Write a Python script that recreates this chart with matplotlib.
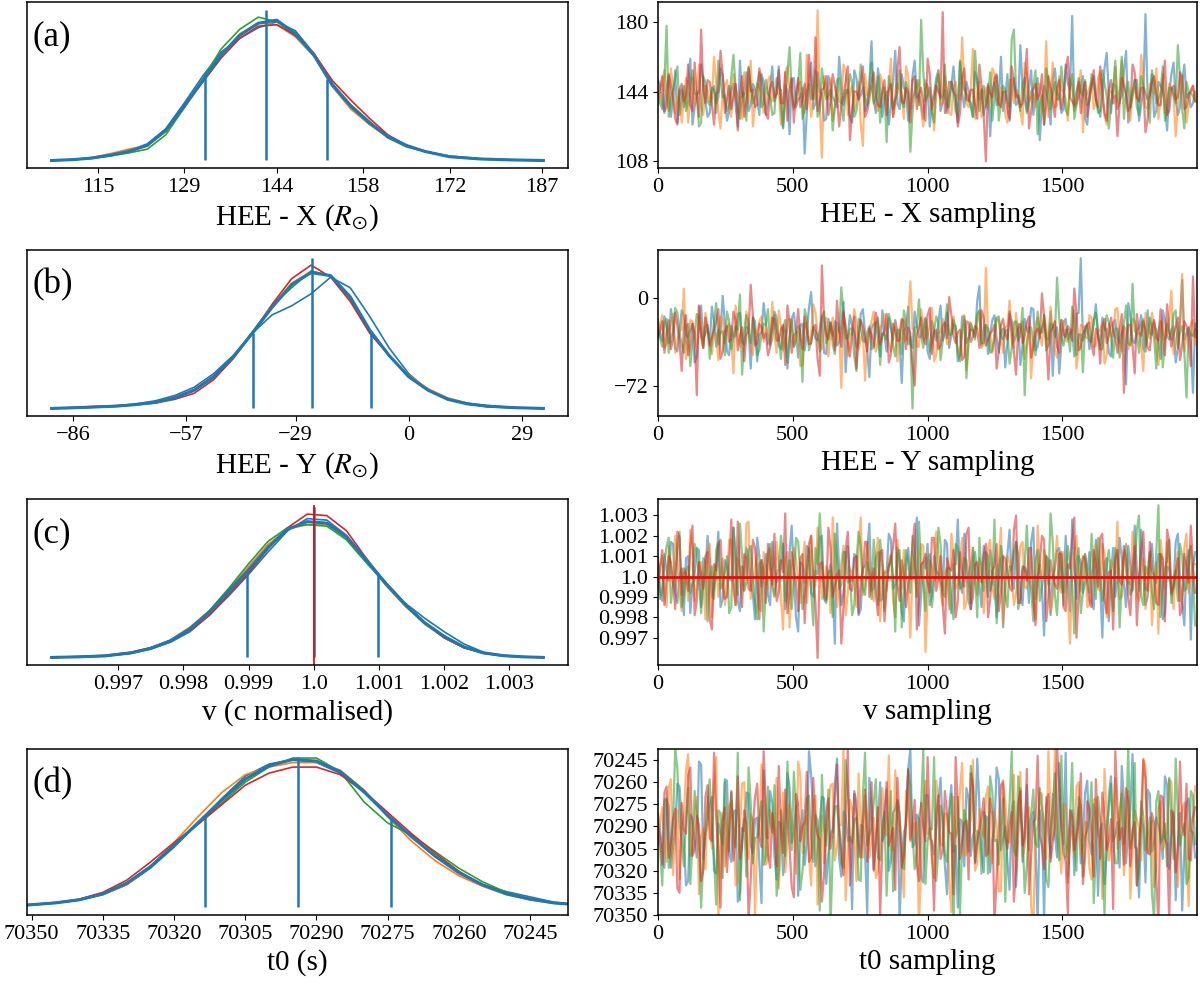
import numpy as np
import matplotlib
matplotlib.use("Agg")
import matplotlib.pyplot as plt

plt.rcParams['font.family'] = ['Liberation Serif', 'DejaVu Serif']
plt.rcParams['mathtext.fontset'] = 'stix'

chain_colors = ['C0', 'C1', 'C2', 'C3']

# ---------------- posterior density (peak ~1) ----------------
x_grid = [107.5, 111, 114, 117, 120, 123, 126, 129, 132, 135, 138, 141, 144, 147, 150, 153, 156, 159, 162, 165, 168, 172, 177, 182, 187.2]
x_kde_chains = [
    [0.0, 0.005, 0.015, 0.035, 0.065, 0.11, 0.21, 0.38, 0.56, 0.72, 0.81, 0.88, 0.92, 0.86, 0.71, 0.51, 0.35, 0.24, 0.16, 0.10, 0.06, 0.025, 0.01, 0.005, 0.0],
    [0.0, 0.006, 0.02, 0.045, 0.075, 0.10, 0.19, 0.35, 0.52, 0.70, 0.84, 0.91, 0.90, 0.82, 0.69, 0.49, 0.34, 0.24, 0.15, 0.10, 0.06, 0.026, 0.01, 0.004, 0.0],
    [0.0, 0.005, 0.014, 0.03, 0.05, 0.075, 0.17, 0.35, 0.54, 0.74, 0.87, 0.95, 0.92, 0.83, 0.70, 0.51, 0.37, 0.26, 0.15, 0.09, 0.06, 0.03, 0.012, 0.005, 0.0],
    [0.0, 0.007, 0.018, 0.035, 0.06, 0.10, 0.20, 0.37, 0.52, 0.68, 0.81, 0.89, 0.90, 0.83, 0.71, 0.53, 0.40, 0.28, 0.17, 0.10, 0.06, 0.024, 0.009, 0.004, 0.0],
]
x_kde_all = [0.0, 0.006, 0.016, 0.035, 0.06, 0.10, 0.20, 0.36, 0.53, 0.70, 0.83, 0.91, 0.93, 0.84, 0.70, 0.50, 0.36, 0.25, 0.16, 0.10, 0.06, 0.025, 0.01, 0.004, 0.0]
x_quant = [132.4, 142.2, 152.1]
x_quant_h = [0.555, 1.0, 0.54]

y_grid = [-91.5, -85, -80, -75, -70, -65, -60, -55, -50, -45, -40, -35, -30, -25, -20, -15, -10, -5, 0, 5, 10, 15, 20, 27, 34.5]
y_kde_chains = [
    [0.0, 0.004, 0.01, 0.017, 0.03, 0.05, 0.085, 0.14, 0.23, 0.35, 0.50, 0.62, 0.68, 0.76, 0.87, 0.80, 0.61, 0.40, 0.23, 0.12, 0.06, 0.03, 0.012, 0.004, 0.0],
    [0.0, 0.003, 0.008, 0.014, 0.025, 0.04, 0.07, 0.12, 0.20, 0.33, 0.50, 0.68, 0.83, 0.91, 0.88, 0.72, 0.50, 0.35, 0.22, 0.13, 0.07, 0.035, 0.014, 0.004, 0.0],
    [0.0, 0.004, 0.009, 0.015, 0.025, 0.04, 0.07, 0.125, 0.21, 0.34, 0.51, 0.68, 0.80, 0.91, 0.88, 0.73, 0.51, 0.35, 0.21, 0.12, 0.065, 0.035, 0.02, 0.005, 0.0],
    [0.0, 0.008, 0.014, 0.018, 0.025, 0.035, 0.06, 0.10, 0.19, 0.33, 0.50, 0.69, 0.86, 0.95, 0.87, 0.71, 0.50, 0.35, 0.21, 0.12, 0.06, 0.03, 0.013, 0.006, 0.0],
]
y_kde_all = [0.0, 0.005, 0.01, 0.015, 0.025, 0.04, 0.07, 0.12, 0.21, 0.34, 0.50, 0.67, 0.82, 0.90, 0.88, 0.74, 0.52, 0.35, 0.21, 0.12, 0.06, 0.03, 0.015, 0.005, 0.0]
y_quant = [-40.0, -24.9, -9.7]
y_quant_h = [0.50, 1.0, 0.50]

# v given as deviation from 1 in units of 1e-4 c
v_grid = [-40.2, -36, -32, -28, -25, -22, -19, -16, -13, -10, -7, -4, -1, 2, 5, 8, 11, 14, 17, 20, 23, 26, 29, 32, 35.2]
v_kde_chains = [
    [0.0, 0.004, 0.01, 0.028, 0.055, 0.10, 0.17, 0.28, 0.41, 0.55, 0.70, 0.84, 0.92, 0.91, 0.81, 0.65, 0.50, 0.36, 0.26, 0.17, 0.09, 0.035, 0.012, 0.004, 0.0],
    [0.0, 0.005, 0.012, 0.032, 0.065, 0.115, 0.20, 0.31, 0.45, 0.60, 0.75, 0.85, 0.88, 0.88, 0.79, 0.64, 0.48, 0.34, 0.22, 0.13, 0.065, 0.028, 0.01, 0.003, 0.0],
    [0.0, 0.003, 0.008, 0.028, 0.06, 0.11, 0.19, 0.31, 0.46, 0.62, 0.77, 0.86, 0.88, 0.87, 0.78, 0.63, 0.49, 0.36, 0.23, 0.13, 0.065, 0.028, 0.01, 0.004, 0.0],
    [0.0, 0.006, 0.014, 0.035, 0.065, 0.11, 0.18, 0.28, 0.42, 0.56, 0.72, 0.86, 0.95, 0.94, 0.84, 0.66, 0.49, 0.35, 0.23, 0.13, 0.065, 0.03, 0.014, 0.006, 0.0],
]
v_kde_all = [0.0, 0.004, 0.01, 0.03, 0.06, 0.11, 0.19, 0.30, 0.44, 0.58, 0.73, 0.85, 0.90, 0.89, 0.80, 0.65, 0.49, 0.35, 0.23, 0.14, 0.07, 0.03, 0.012, 0.004, 0.0]
v_quant = [-10.3, 0.0, 9.8]
v_quant_h = [0.575, 1.0, 0.553]
v_true = 1.0

t_grid = [70355, 70350, 70345, 70340, 70335, 70330, 70325, 70320, 70315, 70310, 70305, 70300, 70295, 70290, 70285, 70280, 70275, 70270, 70265, 70260, 70255, 70250, 70245, 70240, 70235]
t_kde_chains = [
    [0.01, 0.018, 0.03, 0.05, 0.085, 0.15, 0.26, 0.40, 0.56, 0.72, 0.87, 0.95, 0.98, 0.96, 0.89, 0.76, 0.61, 0.47, 0.34, 0.23, 0.15, 0.105, 0.07, 0.035, 0.018],
    [0.008, 0.015, 0.028, 0.048, 0.085, 0.15, 0.27, 0.43, 0.60, 0.76, 0.88, 0.93, 0.96, 0.96, 0.91, 0.78, 0.60, 0.44, 0.31, 0.21, 0.14, 0.085, 0.05, 0.028, 0.015],
    [0.01, 0.018, 0.03, 0.05, 0.09, 0.16, 0.27, 0.41, 0.55, 0.69, 0.83, 0.93, 0.99, 0.99, 0.90, 0.70, 0.56, 0.48, 0.37, 0.26, 0.17, 0.10, 0.06, 0.03, 0.018],
    [0.012, 0.02, 0.033, 0.055, 0.10, 0.18, 0.30, 0.43, 0.55, 0.68, 0.81, 0.89, 0.93, 0.93, 0.88, 0.77, 0.63, 0.49, 0.36, 0.24, 0.15, 0.09, 0.055, 0.03, 0.017],
]
t_kde_all = [0.01, 0.018, 0.03, 0.05, 0.09, 0.16, 0.27, 0.41, 0.56, 0.71, 0.85, 0.94, 0.98, 0.97, 0.90, 0.77, 0.61, 0.47, 0.34, 0.23, 0.15, 0.09, 0.055, 0.03, 0.018]
t_quant = [70313.4, 70293.8, 70274.3]
t_quant_h = [0.60, 1.0, 0.59]

# ---------------- chains, every 8th draw of 2000 ----------------
# *_a: draws 0, 16, 32, ...   *_b: draws 8, 24, 40, ...
draws = np.arange(0, 2000, 8)

x_trace_a = [
    [150, 138, 146, 131, 155, 142, 136, 149, 127, 144, 158, 139, 133, 147, 141, 152, 129, 145, 137, 160, 143, 134, 148, 140, 153,
     132, 146, 139, 157, 125, 144, 150, 136, 141, 112, 148, 135, 154, 143, 130, 147, 139, 162, 137, 145, 128, 151, 142, 134, 149,
     140, 156, 131, 144, 138, 165, 135, 146, 129, 152, 141, 137, 148, 126, 143, 155, 139, 133, 147, 142, 159, 136, 144, 131, 150,
     145, 138, 121, 149, 141, 134, 153, 143, 137, 168, 140, 146, 132, 151, 139, 144, 127, 156, 142, 135, 148, 183, 138, 146, 130,
     143, 152, 136, 141, 164, 133, 147, 139, 155, 128, 144, 150, 137, 184, 142, 131, 149, 145, 124, 153, 140, 136, 158, 143, 138],
    [137, 149, 142, 156, 133, 145, 140, 128, 151, 143, 136, 147, 139, 162, 134, 144, 150, 131, 146, 141, 154, 138, 126, 148, 143,
     135, 152, 140, 145, 130, 157, 142, 137, 149, 133, 146, 140, 186, 110, 143, 151, 136, 139, 158, 132, 147, 141, 127, 153, 144,
     139, 134, 148, 143, 161, 137, 145, 130, 152, 141, 146, 135, 150, 142, 124, 155, 138, 144, 132, 149, 140, 147, 136, 166, 143,
     131, 146, 140, 153, 137, 142, 128, 150, 145, 134, 159, 139, 143, 148, 133, 170, 141, 136, 152, 144, 129, 147, 138, 155, 142,
     146, 135, 151, 140, 127, 144, 157, 138, 149, 132, 145, 141, 163, 136, 148, 143, 130, 153, 139, 146, 121, 150, 142, 137, 147],
    [144, 135, 178, 140, 151, 132, 147, 139, 155, 143, 128, 149, 137, 145, 160, 141, 134, 152, 146, 130, 143, 157, 138, 148, 136,
     150, 141, 133, 146, 126, 153, 144, 139, 164, 135, 148, 142, 131, 156, 140, 145, 137, 151, 129, 143, 149, 134, 158, 141, 146,
     138, 152, 143, 118, 147, 140, 155, 136, 144, 133, 150, 181, 139, 146, 128, 153, 142, 137, 149, 134, 160, 145, 140, 131, 148,
     143, 136, 154, 141, 129, 147, 139, 171, 144, 134, 151, 138, 146, 122, 142, 156, 135, 149, 140, 145, 132, 153, 137, 144, 150,
     139, 147, 133, 155, 142, 137, 160, 145, 130, 149, 141, 136, 152, 143, 128, 147, 140, 157, 134, 146, 138, 151, 125, 144, 142],
    [141, 152, 136, 147, 130, 145, 139, 158, 134, 143, 176, 138, 149, 127, 144, 153, 140, 135, 148, 142, 131, 156, 145, 137, 150,
     133, 146, 141, 155, 138, 129, 151, 143, 136, 148, 163, 140, 134, 145, 152, 139, 147, 126, 142, 157, 135, 144, 149, 131, 140,
     154, 137, 145, 132, 148, 141, 167, 138, 143, 150, 135, 146, 129, 153, 140, 144, 185, 136, 149, 142, 133, 156, 139, 145, 130,
     147, 108, 143, 151, 138, 144, 134, 157, 141, 136, 148, 125, 145, 140, 153, 137, 146, 131, 150, 142, 162, 139, 144, 133, 149,
     140, 155, 136, 145, 129, 150, 142, 138, 147, 134, 158, 141, 146, 123, 143, 152, 137, 148, 132, 145, 140, 154, 135, 143, 147],
]
x_trace_b = [
    [147, 133, 152, 140, 128, 145, 139, 161, 136, 143, 150, 131, 144, 138, 156, 142, 134, 148, 126, 141, 154, 137, 145, 132, 149,
     139, 157, 143, 135, 147, 122, 151, 140, 146, 133, 159, 138, 144, 129, 152, 141, 136, 148, 143, 131, 155, 140, 146, 137, 170,
     133, 145, 141, 127, 149, 138, 153, 144, 135, 160, 142, 130, 147, 139, 151, 134, 145, 141, 157, 128, 143, 149, 136, 154, 140,
     132, 148, 144, 137, 162, 141, 129, 151, 139, 146, 134, 155, 142, 119, 147, 138, 150, 143, 133, 158, 145, 136, 141, 152, 127,
     146, 139, 131, 156, 143, 148, 135, 142, 165, 137, 150, 129, 145, 140, 153, 134, 147, 138, 143, 159, 132, 149, 141, 136, 144],
    [141, 155, 134, 146, 139, 128, 151, 143, 137, 158, 132, 145, 140, 149, 125, 147, 136, 153, 142, 130, 144, 160, 138, 146, 133,
     150, 139, 143, 127, 154, 145, 135, 148, 141, 163, 131, 144, 137, 152, 140, 129, 146, 138, 155, 143, 134, 149, 116, 142, 147,
     136, 153, 140, 145, 131, 148, 142, 157, 135, 143, 150, 126, 146, 139, 144, 137, 152, 133, 147, 141, 172, 138, 145, 130, 149,
     143, 135, 156, 140, 146, 132, 150, 138, 144, 127, 153, 141, 136, 148, 142, 131, 159, 137, 145, 140, 151, 134, 146, 123, 143,
     149, 138, 154, 132, 145, 141, 136, 160, 143, 129, 147, 139, 151, 135, 144, 156, 140, 133, 148, 142, 137, 152, 128, 145, 141],
    [138, 149, 131, 145, 157, 140, 134, 148, 143, 126, 152, 139, 146, 133, 150, 142, 137, 163, 135, 144, 129, 147, 141, 154, 138,
     143, 132, 151, 145, 139, 167, 136, 148, 130, 144, 140, 155, 134, 146, 142, 124, 150, 138, 145, 153, 131, 143, 147, 137, 159,
     141, 128, 146, 152, 135, 143, 139, 149, 113, 145, 137, 154, 142, 133, 148, 140, 158, 136, 144, 131, 150, 143, 138, 165, 134,
     147, 142, 129, 152, 139, 145, 136, 176, 141, 148, 133, 144, 155, 138, 127, 149, 143, 140, 157, 135, 146, 130, 151, 142, 137,
     153, 141, 134, 148, 125, 145, 139, 162, 143, 136, 150, 132, 147, 140, 155, 138, 144, 129, 146, 142, 168, 135, 149, 143, 139],
    [146, 134, 153, 140, 127, 148, 142, 137, 159, 131, 145, 150, 138, 143, 165, 133, 147, 141, 124, 152, 139, 144, 136, 156, 142,
     130, 149, 143, 138, 154, 145, 128, 151, 140, 135, 147, 172, 139, 146, 132, 153, 141, 137, 149, 119, 144, 140, 157, 134, 148,
     142, 136, 150, 145, 131, 155, 139, 146, 128, 152, 143, 138, 161, 135, 147, 141, 133, 149, 144, 126, 151, 140, 145, 137, 158,
     132, 147, 141, 153, 136, 144, 130, 150, 142, 138, 166, 134, 148, 143, 127, 152, 139, 146, 135, 155, 141, 137, 149, 144, 131,
     148, 140, 157, 133, 145, 138, 121, 151, 142, 136, 154, 139, 146, 130, 149, 143, 137, 160, 134, 147, 141, 152, 136, 144, 139],
]

y_trace_a = [
    [-18, -35, -24, -9, -41, -27, -14, -32, -21, -48, -6, -29, -37, -19, -26, 2, -44, -23, -31, -12, -38, -25, -16, -52, -28,
     -20, -33, -11, -39, -24, -58, -17, -30, -22, -43, -8, -27, -35, -15, -46, -26, -19, -36, -3, -31, -23, -40, -13, -29, -65,
     -21, -34, -10, -44, -25, -18, -37, -28, -7, -41, -24, -32, -16, -50, -27, -20, -35, -12, -30, -23, -47, -15, -33, -26, -2,
     -39, -22, -29, -14, -45, -25, -36, -19, -31, -55, -17, -28, -9, -40, -24, -33, -11, -27, -62, -20, -34, -26, -13, 33, -30,
     -42, -21, -32, -16, -25, -48, -18, -37, -23, -4, -35, -27, -14, -44, -29, -20, -38, -10, -31, -26, -53, -19, -34, -24, -78],
    [-30, -14, -38, -22, -45, -27, 8, -33, -19, -41, -25, -12, -36, -29, -51, -17, -24, -34, -6, -40, -26, -20, -47, -31, -15,
     -23, -37, -28, -10, -43, -25, -18, -32, -56, -21, -35, -5, -29, -42, -16, -27, -39, -24, -13, -48, -30, -20, -34, -68, -26,
     -11, -37, -22, -31, -44, -19, -27, -36, -15, -25, -40, -9, -33, -21, -52, -28, -17, -38, -24, -30, -46, -14, -35, -26, -20,
     -41, 25, -29, -33, -18, -45, -23, -37, -12, -28, -50, -21, -34, -16, -39, -25, -7, -43, -30, -19, -36, -27, -58, -22, -32,
     -14, -40, -26, -20, -47, -31, -9, -35, -24, -42, -17, -28, -38, -12, -33, -25, -55, -19, -30, 6, -37, -23, -44, -27, -18],
    [-26, -40, -17, -33, -8, -29, -45, -21, -36, -13, -31, -24, -50, -19, -38, -27, -11, -42, -23, 3, -34, -28, -16, -47, -30,
     -22, -39, -14, -32, -25, -53, -18, -35, -27, -9, -43, -24, -30, -15, -37, -20, -46, -28, -12, -33, -25, -60, -19, -36, -23,
     -41, -16, -29, -34, -21, -48, -26, -10, -38, -91, -24, -31, -17, -44, -27, -20, -35, -5, -30, -25, -52, -18, -33, -28, -13,
     -37, -22, -45, -29, -15, -34, -26, -41, -19, -31, -80, -24, -36, -11, -28, -43, -21, -32, -17, -39, -26, -7, -47, -30, -23,
     -35, -18, -27, -42, -14, -31, -25, -49, -20, -37, 12, -29, -23, -40, -16, -33, -26, -57, -21, -34, -10, -28, -44, -24, -31],
    [-33, -19, -28, -42, -12, -36, -25, -47, -21, -80, -30, -16, -39, -26, -9, -44, -23, -34, -18, -31, -52, -27, -14, -37, -24,
     -29, -41, -17, -35, -22, -6, -45, -28, -32, -15, -38, -24, -50, 27, -30, -20, -43, -26, -11, -36, -29, -58, -18, -33, -25,
     -40, -21, -31, -13, -46, -27, -35, -19, -24, -54, -30, -16, -38, -8, -28, -42, -23, -33, -14, -37, -26, -48, -20, -32, -25,
     -10, -39, -29, -22, -44, -17, -34, -27, -63, -21, -31, -15, -40, -25, 4, -36, -28, -19, -45, -30, -23, -35, -12, -41, -26,
     -20, -47, -30, -24, -37, -16, -33, -27, -78, -22, -39, -13, -31, -26, -43, -18, -35, -29, -5, -40, -24, -51, -19, -32, 18],
]
y_trace_b = [
    [-29, -15, -37, -22, -44, -10, -31, -26, -53, -18, -34, -25, -7, -40, -28, -20, -47, -32, -13, -36, -24, -58, -19, -30, -4,
     -38, -23, -16, -42, -27, -35, -12, -49, -21, -29, 5, -33, -26, -45, -17, -31, -39, -22, -61, -14, -28, -36, -9, -43, -25,
     -20, -48, -30, -16, -34, -27, -70, -23, -38, -11, -32, -25, -44, -19, -35, -6, -29, -41, -22, -52, -15, -37, -26, -31, 10,
     -24, -46, -18, -33, -28, -57, -13, -36, -21, -40, -27, -8, -43, -30, -19, -34, -64, -24, -38, -17, -29, -48, -12, -35, -22,
     -31, -5, -39, -26, -45, -20, -33, -28, -71, -15, -37, -24, -42, -10, -30, -27, -50, -18, -34, -23, -41, 15, -29, -36, -21],
    [-22, -41, -28, -13, -35, -26, -50, -18, -32, -7, -39, -24, -46, -29, -15, -37, -21, -62, -27, -33, -11, -43, -25, -19, -36,
     -30, -3, -45, -23, -34, -17, -40, -28, -55, -20, -31, -12, -38, -26, -48, -16, -33, -74, -22, -29, -9, -42, -27, -35, -19,
     -44, -24, -13, -37, -30, -52, -18, -34, 14, -26, -40, -21, -31, -8, -47, -28, -23, -36, -15, -43, -25, -59, -20, -32, -11,
     -38, -27, -45, -17, -33, -24, -2, -41, -29, -19, -36, -66, -22, -30, -14, -40, -26, -49, -18, -35, -28, -10, -43, -23, -33,
     -16, -39, -27, -54, -21, -31, -8, -44, -25, -37, -19, -30, -60, -24, -12, -41, -28, -34, -17, -46, -26, 20, -32, -22, -38],
    [-33, -20, -45, -27, -12, -38, -24, -56, -30, -17, -41, -22, -35, -4, -29, -47, -19, -32, -26, -63, -14, -37, -28, -43, -21,
     -9, -34, -25, -50, -18, -31, -40, -23, -69, -16, -36, -27, -44, -11, -29, -38, -20, 9, -33, -25, -48, -17, -35, -28, -42,
     -22, -55, -30, -13, -39, -26, -46, -19, -32, -24, -1, -41, -27, -36, -15, -51, -23, -30, -18, -45, -28, -66, -21, -34, -10,
     -37, -25, -43, -16, -31, -27, -54, -20, -35, -8, -40, -24, -47, -29, -14, -38, -22, 17, -33, -26, -44, -18, -30, -61, -23,
     -36, -12, -42, -28, -20, -49, -25, -33, -6, -39, -27, -45, -17, -31, -24, -58, -19, -35, -29, -13, -41, -23, -82, -30, -26],
    [-27, -45, -18, -34, -23, -60, -14, -38, -29, -6, -41, -25, -32, -19, -50, -28, -36, -11, -43, -24, -30, 11, -39, -21, -33,
     -47, -16, -35, -26, -55, -20, -31, -9, -42, -27, -37, -22, -64, -18, -34, -28, -2, -40, -25, -48, -15, -32, -23, -44, -30,
     -12, -38, -27, -53, -21, -35, -17, -42, -29, -72, -24, -33, -14, -46, -26, -39, -20, 1, -31, -28, -51, -19, -36, -23, -41,
     -16, -34, -27, -58, -22, -30, -11, -44, -25, -37, -20, -49, -28, -33, -15, -67, -24, -40, -18, -32, -26, 8, -43, -29, -21,
     -38, -25, -54, -17, -31, -27, -45, -13, -35, -22, -62, -28, -19, -41, -24, -33, -9, -47, -26, -30, -16, -39, -23, -56, -32],
]

# v chains as deviation from 1 in units of 1e-4 c
v_dev_a = [
    [6, -12, 3, 17, -8, 1, -19, 10, -4, 14, -15, 2, 8, -6, 22, -11, 5, -2, 12, -17, 0, 9, -9, 19, -5,
     11, -14, 4, -1, 16, -7, 25, -20, 7, -3, 13, -10, 1, 20, -13, 6, -33, 3, -8, 15, -2, 10, -16, 5, 26,
     -6, 12, -11, 2, 18, -4, 8, -22, 14, -1, 29, -9, 4, -14, 10, 1, -7, 16, -18, 6, -3, 21, -12, 9, 0,
     -15, 7, 13, -5, 3, -25, 11, -2, 17, -9, 5, -13, 24, 0, -6, 10, -19, 4, 14, -8, 2, 28, -11, 7, -3,
     12, -16, 6, -30, 9, 1, -10, 19, -4, 15, -7, 3, 23, -14, 8, -1, 11, -21, 5, -9, 17, -2, -24, 13, 4],
    [-3, 10, -15, 5, 20, -8, 2, -12, 13, -5, 7, -21, 16, 0, -10, 9, -2, 18, -14, 4, -7, 27, -4, 11, -17,
     1, 14, -9, 6, -26, 12, -1, 8, -13, 17, 3, -6, 24, -11, 5, -18, 10, -3, 15, -8, 2, -15, 29, -5, 7,
     -12, 19, 0, -7, 11, -20, 6, 13, -4, 2, -10, 16, -37, 8, -2, 12, -14, 4, 21, -6, 9, -16, 1, 14, -9,
     5, -3, 18, -11, 7, -23, 10, 0, -8, 15, -5, 3, -13, 25, -1, 9, -18, 6, -4, 12, -10, 2, 20, -7, 11,
     -14, 4, -6, 16, -20, 8, 1, -11, 13, -3, 22, -9, 5, -16, 10, -1, -28, 7, 17, -5, 3, -12, 14, -8, 6],
    [9, -6, 15, -13, 2, 22, -9, 5, -3, 12, -18, 7, 0, -11, 17, -4, 10, -15, 3, 26, -7, 13, -1, -21, 8,
     -5, 16, -10, 4, 11, -2, -16, 19, 1, -8, 14, -24, 6, 9, -12, 3, 21, -6, 12, -3, -19, 7, 15, -9, 2,
     18, -14, 5, -1, 10, -27, 13, -5, 7, 20, -10, 2, -17, 11, -3, 24, -8, 4, -13, 16, -6, 9, -2, 14, -20,
     1, 12, -7, 28, -4, 8, -15, 3, 17, -11, 6, -1, -22, 13, -5, 10, 31, -9, 2, -14, 15, -3, 7, -18, 11,
     -8, 4, 19, -12, 6, -2, 14, -25, 9, 1, -6, 23, -10, 5, 12, -16, 35, -4, 8, -13, 3, 16, -7, 10, -1],
    [-9, 13, -2, 7, -16, 19, 4, -7, 25, -12, 1, 10, -21, 6, 15, -4, -10, 28, -14, 3, 11, -6, 18, -1, 8,
     -13, 5, 21, -8, 2, -18, 12, -3, 9, -23, 16, 0, -40, 7, -11, 14, -5, 3, -15, 22, -7, 10, -2, 17, -10,
     4, -19, 13, -6, 8, 26, -12, 1, -4, 15, -26, 6, 11, -8, 19, -1, -14, 9, 3, -20, 12, -5, 24, -10, 7,
     -3, 16, -11, 5, -17, 10, 2, -7, 30, -13, 4, 14, -9, -1, 20, -22, 8, -4, 11, -15, 6, 18, -30, 1, 9,
     -12, 13, -5, 21, -18, 3, 8, -2, 15, -10, 5, -24, 12, -6, 17, 0, -14, 9, 23, -8, 2, -19, 11, -3, 6],
]
v_dev_b = [
    [-7, 11, -2, 16, -13, 4, 9, -18, 1, 13, -6, 20, -10, 3, -15, 8, -1, 24, -12, 5, 14, -4, -21, 10, 2,
     -9, 17, -3, 7, -16, 12, 0, -27, 6, 15, -8, 3, 19, -11, 1, -5, 26, -14, 8, -2, 11, -19, 4, 13, -7,
     9, -12, 2, 21, -6, 14, -17, 5, -1, 10, -24, 7, 16, -9, 3, -3, 18, -13, 6, 28, -8, 1, -16, 12, -4,
     15, -10, 4, -20, 9, -2, 23, -6, 11, -14, 2, 17, -11, 6, -29, 8, 0, 13, -5, 20, -17, 3, 10, -8, 1,
     -12, 18, -4, 7, -22, 14, -1, 9, -15, 5, 25, -7, 2, -10, 16, -3, 11, -18, 4, -6, 21, -13, 8, -31, 12],
    [4, -9, 15, -5, 10, -17, 2, 23, -12, 7, -3, 13, -20, 6, 0, -14, 18, -7, 9, -2, 26, -11, 5, -16, 12,
     -6, 3, 17, -10, 8, -25, 14, -1, 6, -13, 20, -4, 11, -8, 1, 29, -15, 7, -19, 4, -2, 13, -9, 16, -5,
     10, -22, 3, 8, -12, 18, -6, 1, -30, 12, -3, 15, -10, 5, 22, -7, 2, -16, 11, -4, 19, -13, 6, -1, 9,
     -18, 14, -5, 3, 24, -9, 7, -14, 1, 17, -6, 10, -21, 4, 13, -2, -11, 20, -8, 6, -33, 12, -3, 8, -15,
     2, 16, -7, 11, -19, 5, 27, -10, 3, -4, 14, -12, 9, -1, -24, 7, 18, -6, 4, -16, 12, -9, 21, -2, 6],
    [-11, 7, 19, -4, 12, -15, 3, -8, 16, -1, 9, -22, 5, 13, -6, 2, -18, 24, -9, 10, -3, 15, -13, 6, -27,
     11, -5, 1, 20, -12, 8, -2, 17, -16, 4, -7, 14, 31, -10, 2, -20, 9, -4, 12, 0, -14, 22, -6, 7, -11,
     3, 18, -17, 5, -1, 11, -25, 13, -8, 6, 27, -3, 9, -15, 1, 16, -10, 4, -21, 14, -5, 8, -13, 2, 19,
     -7, 10, -2, -23, 15, -9, 5, 12, -16, 3, 25, -6, 8, -12, 1, -4, 17, -19, 11, -1, 7, -28, 14, -8, 4,
     21, -11, 2, -5, 13, -17, 9, -3, 16, -9, 6, 30, -14, 1, -7, 12, -20, 4, 18, -2, -12, 10, -6, 15, -24],
    [5, -14, 10, -3, 22, -9, 1, 15, -19, 7, -6, 12, -26, 3, 18, -11, 6, -2, 27, -15, 9, -7, 14, -21, 2,
     16, -4, -12, 8, 31, -8, 4, -17, 11, -1, 20, -13, 6, -5, 24, -10, 1, -33, 13, -6, 9, -18, 3, 17, -2,
     -9, 12, -22, 5, 15, -4, 8, -15, 1, 26, -11, 7, -3, 19, -7, 10, -28, 4, 13, -12, 2, 21, -16, 6, -1,
     11, -20, 3, 16, -8, 9, -5, 23, -13, 5, -2, 14, -24, 7, 18, -10, 1, -6, 12, -17, 4, 29, -9, 10, -3,
     -15, 6, 19, -11, 2, -26, 13, -4, 8, -19, 15, -1, 22, -7, 3, -13, 11, -22, 17, -5, 9, -16, 5, 25, -8],
]

t_trace_a = [
    [70281, 70305, 70272, 70318, 70290, 70263, 70299, 70327, 70285, 70311, 70248, 70296, 70275, 70320, 70288, 70302, 70259, 70314, 70279, 70334, 70293, 70268, 70308, 70284, 70342,
     70297, 70266, 70310, 70287, 70323, 70254, 70301, 70276, 70292, 70316, 70239, 70283, 70306, 70270, 70329, 70295, 70261, 70312, 70280, 70300, 70346, 70273, 70289, 70307, 70257,
     70319, 70286, 70300, 70265, 70313, 70278, 70352, 70294, 70251, 70304, 70282, 70325, 70269, 70298, 70309, 70274, 70291, 70336, 70262, 70303, 70285, 70317, 70271, 70296, 70244,
     70308, 70283, 70321, 70290, 70258, 70299, 70314, 70277, 70331, 70264, 70293, 70306, 70280, 70356, 70287, 70270, 70311, 70295, 70247, 70302, 70324, 70279, 70290, 70315, 70267,
     70300, 70275, 70337, 70288, 70309, 70256, 70296, 70318, 70273, 70292, 70241, 70305, 70284, 70328, 70268, 70301, 70289, 70312, 70262, 70297, 70340, 70281, 70307, 70271, 70294],
    [70302, 70277, 70314, 70258, 70293, 70326, 70284, 70241, 70308, 70270, 70297, 70319, 70288, 70263, 70354, 70281, 70304, 70273, 70330, 70291, 70260, 70312, 70286, 70299, 70248,
     70316, 70279, 70295, 70332, 70267, 70301, 70285, 70322, 70256, 70290, 70309, 70274, 70343, 70283, 70298, 70262, 70313, 70289, 70236, 70305, 70278, 70327, 70292, 70269, 70311,
     70284, 70320, 70264, 70296, 70306, 70252, 70291, 70338, 70276, 70300, 70287, 70317, 70259, 70294, 70325, 70271, 70303, 70282, 70348, 70297, 70266, 70310, 70289, 70245, 70315,
     70293, 70270, 70307, 70280, 70334, 70261, 70299, 70286, 70321, 70253, 70304, 70277, 70360, 70290, 70268, 70312, 70283, 70238, 70301, 70275, 70328, 70294, 70263, 70309, 70287,
     70318, 70272, 70296, 70339, 70281, 70305, 70257, 70292, 70323, 70266, 70300, 70285, 70313, 70249, 70297, 70331, 70278, 70306, 70289, 70260, 70316, 70293, 70274, 70344, 70283],
    [70296, 70330, 70271, 70309, 70237, 70288, 70317, 70264, 70301, 70282, 70345, 70293, 70258, 70312, 70279, 70325, 70290, 70267, 70304, 70340, 70285, 70250, 70315, 70297, 70273,
     70310, 70287, 70262, 70321, 70294, 70246, 70306, 70280, 70333, 70299, 70269, 70314, 70286, 70255, 70303, 70358, 70277, 70292, 70318, 70263, 70301, 70284, 70327, 70240, 70296,
     70274, 70311, 70289, 70337, 70266, 70302, 70281, 70319, 70252, 70295, 70308, 70276, 70329, 70291, 70243, 70305, 70283, 70314, 70268, 70298, 70350, 70279, 70307, 70260, 70293,
     70322, 70285, 70256, 70300, 70316, 70271, 70295, 70239, 70310, 70282, 70335, 70289, 70265, 70304, 70278, 70326, 70292, 70254, 70313, 70287, 70301, 70247, 70320, 70276, 70297,
     70283, 70342, 70270, 70308, 70290, 70261, 70315, 70279, 70302, 70236, 70294, 70330, 70273, 70306, 70284, 70353, 70266, 70298, 70317, 70281, 70244, 70303, 70288, 70325, 70269],
    [70289, 70316, 70263, 70301, 70278, 70335, 70292, 70255, 70310, 70283, 70327, 70270, 70298, 70240, 70306, 70286, 70321, 70266, 70295, 70312, 70279, 70352, 70290, 70261, 70304,
     70275, 70318, 70293, 70249, 70308, 70284, 70331, 70268, 70300, 70287, 70314, 70257, 70296, 70341, 70280, 70305, 70272, 70291, 70323, 70238, 70299, 70282, 70311, 70265, 70294,
     70320, 70277, 70303, 70260, 70297, 70333, 70285, 70309, 70251, 70290, 70316, 70274, 70300, 70286, 70347, 70269, 70306, 70281, 70295, 70243, 70312, 70288, 70326, 70263, 70301,
     70284, 70310, 70271, 70355, 70293, 70259, 70305, 70280, 70319, 70266, 70298, 70336, 70287, 70242, 70303, 70276, 70314, 70291, 70262, 70308, 70349, 70283, 70297, 70254, 70311,
     70278, 70324, 70290, 70267, 70306, 70285, 70239, 70299, 70316, 70273, 70293, 70330, 70281, 70258, 70309, 70288, 70357, 70270, 70302, 70279, 70321, 70246, 70296, 70312, 70284],
]
t_trace_b = [
    [70293, 70318, 70276, 70305, 70261, 70289, 70330, 70282, 70299, 70246, 70312, 70287, 70270, 70322, 70295, 70258, 70308, 70280, 70341, 70291, 70267, 70303, 70285, 70315, 70252,
     70298, 70274, 70326, 70288, 70306, 70263, 70294, 70337, 70279, 70301, 70255, 70317, 70286, 70271, 70309, 70292, 70244, 70324, 70283, 70297, 70266, 70311, 70290, 70349, 70277,
     70304, 70260, 70296, 70320, 70281, 70272, 70313, 70289, 70238, 70302, 70285, 70328, 70269, 70300, 70293, 70257, 70316, 70278, 70307, 70345, 70287, 70264, 70310, 70292, 70275,
     70321, 70284, 70299, 70250, 70306, 70290, 70333, 70273, 70296, 70314, 70262, 70288, 70303, 70279, 70353, 70294, 70268, 70311, 70286, 70240, 70301, 70323, 70277, 70297, 70259,
     70309, 70283, 70292, 70329, 70270, 70300, 70287, 70249, 70315, 70278, 70304, 70338, 70291, 70265, 70307, 70284, 70296, 70256, 70319, 70280, 70302, 70347, 70274, 70293, 70311],
    [70287, 70301, 70264, 70323, 70279, 70296, 70252, 70310, 70284, 70336, 70291, 70270, 70305, 70243, 70298, 70317, 70276, 70289, 70328, 70261, 70303, 70282, 70351, 70294, 70268,
     70312, 70286, 70257, 70300, 70321, 70275, 70293, 70246, 70308, 70283, 70330, 70269, 70297, 70315, 70280, 70261, 70304, 70289, 70340, 70272, 70296, 70254, 70311, 70285, 70299,
     70325, 70277, 70292, 70242, 70306, 70283, 70318, 70266, 70300, 70288, 70356, 70274, 70295, 70313, 70259, 70302, 70281, 70327, 70270, 70293, 70247, 70309, 70286, 70320, 70278,
     70297, 70263, 70315, 70290, 70334, 70273, 70301, 70255, 70287, 70311, 70280, 70344, 70294, 70267, 70306, 70239, 70299, 70284, 70322, 70275, 70292, 70310, 70260, 70303, 70288,
     70326, 70271, 70298, 70251, 70313, 70282, 70305, 70265, 70296, 70339, 70279, 70291, 70244, 70308, 70286, 70319, 70273, 70301, 70258, 70294, 70331, 70277, 70306, 70289, 70263],
    [70305, 70272, 70318, 70288, 70251, 70300, 70284, 70329, 70266, 70296, 70313, 70277, 70292, 70343, 70281, 70260, 70307, 70289, 70240, 70302, 70324, 70274, 70298, 70285, 70316,
     70263, 70294, 70337, 70279, 70310, 70287, 70253, 70301, 70320, 70271, 70296, 70282, 70347, 70290, 70265, 70308, 70276, 70315, 70245, 70299, 70286, 70326, 70269, 70303, 70291,
     70258, 70313, 70280, 70297, 70334, 70273, 70305, 70288, 70262, 70319, 70284, 70238, 70300, 70292, 70327, 70276, 70309, 70283, 70355, 70270, 70302, 70287, 70249, 70314, 70295,
     70280, 70322, 70267, 70299, 70290, 70341, 70274, 70306, 70256, 70293, 70317, 70282, 70301, 70264, 70288, 70331, 70278, 70296, 70242, 70311, 70285, 70303, 70270, 70324, 70292,
     70260, 70308, 70286, 70350, 70277, 70298, 70315, 70268, 70290, 70305, 70247, 70321, 70283, 70296, 70336, 70273, 70301, 70288, 70257, 70312, 70280, 70294, 70329, 70266, 70302],
    [70298, 70267, 70311, 70285, 70332, 70274, 70295, 70250, 70306, 70289, 70320, 70262, 70300, 70284, 70345, 70277, 70293, 70313, 70256, 70302, 70288, 70326, 70270, 70297, 70239,
     70309, 70281, 70317, 70292, 70265, 70304, 70338, 70276, 70290, 70253, 70311, 70286, 70299, 70323, 70271, 70294, 70248, 70307, 70283, 70330, 70268, 70301, 70287, 70314, 70260,
     70296, 70350, 70279, 70303, 70291, 70257, 70318, 70284, 70299, 70272, 70327, 70290, 70243, 70305, 70281, 70312, 70266, 70294, 70336, 70277, 70300, 70286, 70254, 70315, 70292,
     70271, 70308, 70283, 70324, 70262, 70297, 70289, 70341, 70275, 70303, 70251, 70310, 70285, 70296, 70319, 70268, 70301, 70236, 70292, 70314, 70279, 70306, 70288, 70329, 70273,
     70295, 70258, 70312, 70284, 70300, 70346, 70276, 70291, 70264, 70317, 70287, 70302, 70245, 70308, 70281, 70325, 70269, 70298, 70354, 70283, 70305, 70290, 70261, 70313, 70277],
]

x_ticks = [115, 129, 144, 158, 172, 187]
y_ticks = [-86, -57, -29, 0, 29]
v_ticks = [0.997, 0.998, 0.999, 1.0, 1.001, 1.002, 1.003]
v_ticklabels = ['0.997', '0.998', '0.999', '1.0', '1.001', '1.002', '1.003']
t_ticks = [70350, 70335, 70320, 70305, 70290, 70275, 70260, 70245]

x_trace_ticks = [108, 144, 180]
y_trace_ticks = [-72, 0]

TICK_FS = 16
LABEL_FS = 21


def interleave(a, b):
    out = np.empty(len(a) + len(b))
    out[0::2] = a
    out[1::2] = b
    return out


def kdePanel(ax, grid, chains, combined, qpos, qh, letter, xlabel):
    for i in range(len(chains)):
        ax.plot(grid, chains[i], color=chain_colors[i], lw=1.2)
    ax.plot(grid, combined, color='C0', lw=2.2)
    ax.vlines(qpos, 0, qh, color='C0', lw=1.8)
    ax.set_yticks([])
    ax.set_xlabel(xlabel, fontsize=LABEL_FS)
    ax.tick_params(labelsize=TICK_FS)
    ax.text(0.01, 0.89, letter, transform=ax.transAxes, fontsize=25, ha='left', va='top')


def tracePanel(ax, vals_a, vals_b, xlabel, scale=None):
    for i in range(len(vals_a)):
        vals = interleave(vals_a[i], vals_b[i])
        if scale is not None:
            vals = scale(vals)
        ax.plot(draws, vals, color=chain_colors[i], lw=1.6, alpha=0.55)
    ax.set_xlim(0, 1999)
    ax.set_xticks([0, 500, 1000, 1500])
    ax.set_xlabel(xlabel, fontsize=LABEL_FS)
    ax.tick_params(labelsize=TICK_FS)


fig = plt.figure(figsize=(12, 9.85), dpi=100)
row_bottoms = [0.8294, 0.5777, 0.3249, 0.0711]
H = 0.1685
axl = [fig.add_axes([0.0225, b, 0.4508, H]) for b in row_bottoms]
axr = [fig.add_axes([0.5483, b, 0.4492, H]) for b in row_bottoms]
for ax in axl + axr:
    for s in ax.spines.values():
        s.set_linewidth(1.1)

# (a) HEE - X
kdePanel(axl[0], x_grid, x_kde_chains, x_kde_all, x_quant, x_quant_h, '(a)', r'HEE - X ($R_{\odot}$)')
axl[0].set_xticks(x_ticks)
tracePanel(axr[0], x_trace_a, x_trace_b, 'HEE - X sampling')
axr[0].set_ylim(104.6, 190.2)
axr[0].set_yticks(x_trace_ticks)

# (b) HEE - Y
kdePanel(axl[1], y_grid, y_kde_chains, y_kde_all, y_quant, y_quant_h, '(b)', r'HEE - Y ($R_{\odot}$)')
axl[1].set_xticks(y_ticks)
tracePanel(axr[1], y_trace_a, y_trace_b, 'HEE - Y sampling')
axr[1].set_ylim(-97.1, 39.8)
axr[1].set_yticks(y_trace_ticks)

# (c) v
to_v = lambda d: 1 + np.asarray(d) * 1e-4
kdePanel(axl[2], to_v(v_grid), v_kde_chains, v_kde_all, to_v(v_quant), v_quant_h, '(c)', 'v (c normalised)')
axl[2].axvline(v_true, ymin=0.0, ymax=0.96, color='red', lw=1.3)
axl[2].set_xticks(v_ticks)
axl[2].set_xticklabels(v_ticklabels)
tracePanel(axr[2], v_dev_a, v_dev_b, 'v sampling', scale=to_v)
axr[2].axhline(v_true, color='red', lw=2.0)
axr[2].set_ylim(0.995655, 1.003807)
axr[2].set_yticks(v_ticks)
axr[2].set_yticklabels(v_ticklabels)

# (d) t0
kdePanel(axl[3], t_grid, t_kde_chains, t_kde_all, t_quant, t_quant_h, '(d)', 't0 (s)')
axl[3].set_xticks(t_ticks)
axl[3].set_xlim(70351, 70237)
tracePanel(axr[3], t_trace_a, t_trace_b, 't0 sampling')
axr[3].set_ylim(70350, 70237.5)
axr[3].set_yticks(t_ticks)

fig.savefig('out.png', dpi=100)
